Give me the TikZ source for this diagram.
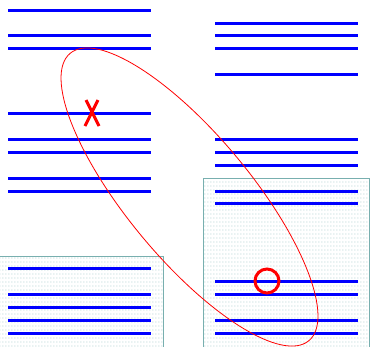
\documentclass[tikz,border=0pt]{standalone}
\usetikzlibrary{patterns}
\definecolor{boxedge}{RGB}{120,175,175}
\definecolor{boxdot}{RGB}{160,200,200}
\pgfdeclarepatternformonly{griddots}{\pgfpointorigin}{\pgfqpoint{3.3pt}{4.2pt}}{\pgfqpoint{3.3pt}{4.2pt}}{%
  \pgfpathrectangle{\pgfqpoint{0.6pt}{0.6pt}}{\pgfqpoint{1.1pt}{1.1pt}}%
  \pgfusepath{fill}}
\tikzset{
  bar/.style={draw=blue, line width=3pt},
  panel/.style={draw=boxedge, line width=1pt, pattern=griddots, pattern color=boxdot},
  redline/.style={draw=red, line width=3pt},
  loop/.style={draw=red, line width=0.8pt}
}
\begin{document}
\begin{tikzpicture}[x=1pt,y=-1pt]
\useasboundingbox (0,0) rectangle (371,346);
% panels
\path[panel] (-2,256) rectangle (163,348);
\path[panel] (203,178.5) rectangle (369,348);
% left column bars
\foreach \y [count=\i] in {10,35.7,48.7,113.3,139.3,152,178,191,268.3,294.3,307.3,320.3,333.3}
  \draw[bar] (8,\y) coordinate (L\i) -- (151,\y) coordinate (Lr\i);
% right column bars
\foreach \y [count=\i] in {23,35.7,48.7,74.3,139,152,165,191,203.7,281.3,294.3,320,333}
  \draw[bar] (215,\y) coordinate (R\i) -- (357.5,\y) coordinate (Rr\i);
% ellipse
\node[draw=none, inner sep=0pt] (ec) at (189.5,197) {};
\draw[loop] (ec.center) ellipse [x radius=186.8pt, y radius=61.8pt, rotate=-50.3];
% cross mark
\coordinate (xa) at (86,100);
\coordinate (xb) at (99,126);
\coordinate (xc) at (98,100);
\coordinate (xd) at (85,126);
\draw[redline] (xa) -- (xb);
\draw[redline] (xc) -- (xd);
% circle mark
\node[circle, draw=red, line width=3pt, minimum size=24pt, inner sep=0pt] (ring) at (267,281) {};
\end{tikzpicture}
\end{document}
